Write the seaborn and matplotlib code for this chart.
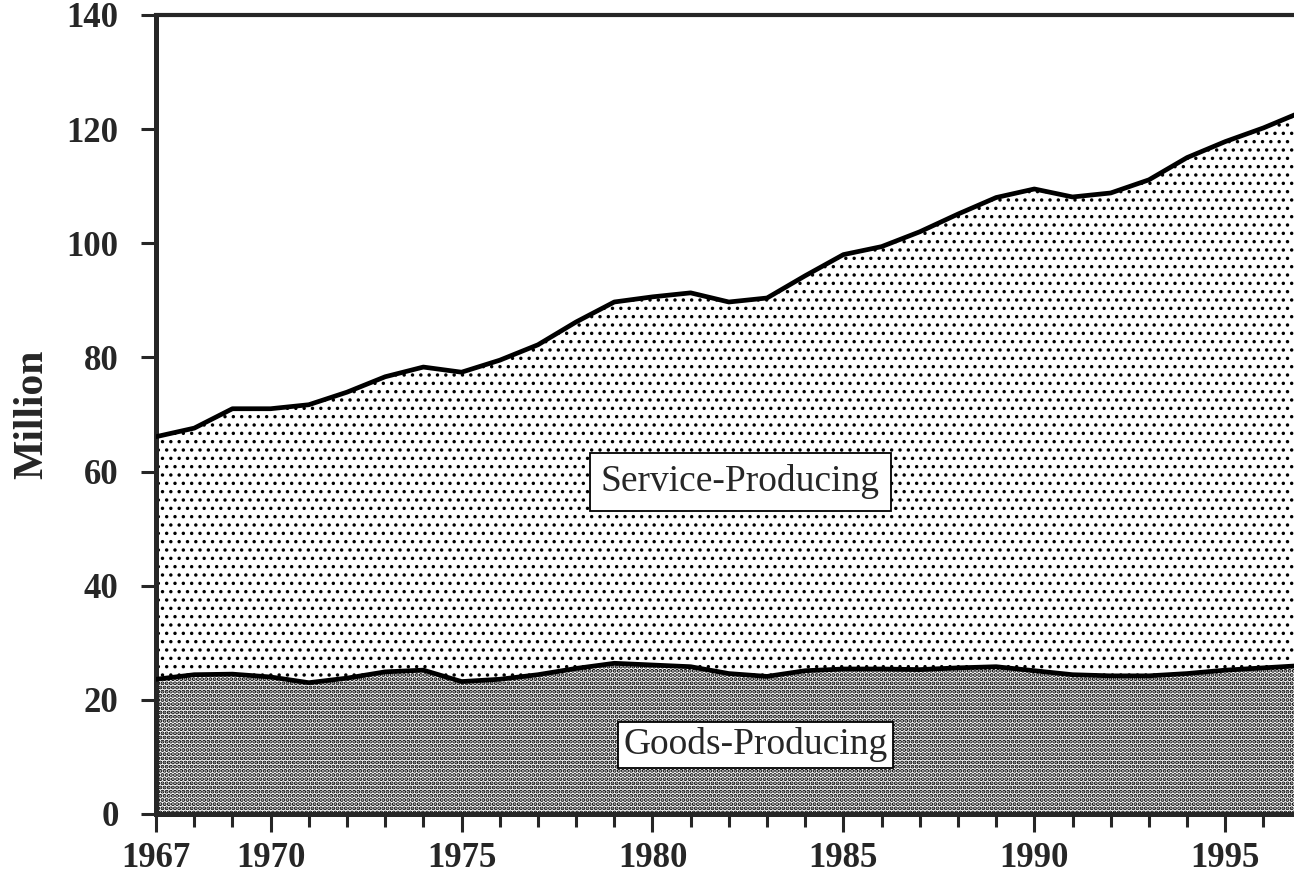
import numpy as np
import pandas as pd
import matplotlib
matplotlib.use("Agg")
import matplotlib.pyplot as plt
from matplotlib.ticker import MultipleLocator, FixedLocator
import seaborn as sns

# employment by sector, million
years = list(range(1967, 1998))
goods = [23.6, 24.4, 24.5, 24.0, 23.0, 23.8, 24.9, 25.2, 23.2, 23.6,
         24.4, 25.5, 26.4, 26.1, 25.8, 24.6, 24.1, 25.1, 25.4, 25.4,
         25.3, 25.6, 25.8, 25.1, 24.4, 24.2, 24.2, 24.6, 25.2, 25.6, 26.0]
service = [42.5, 43.2, 46.5, 47.0, 48.7, 50.1, 51.7, 53.1, 54.2, 55.9,
           57.8, 60.7, 63.3, 64.5, 65.5, 65.1, 66.3, 69.2, 72.6, 74.0,
           76.7, 79.5, 82.2, 84.4, 83.7, 84.6, 86.9, 90.4, 92.6, 94.6, 97.0]
major_years = [1967, 1970, 1975, 1980, 1985, 1990, 1995]

df = pd.DataFrame({"year": years, "goods": goods, "service": service})
df["total"] = df.goods + df.service

sns.set_style("ticks")
plt.rcParams["font.family"] = ["Liberation Serif", "DejaVu Serif"]
plt.rcParams["hatch.color"] = "black"

fig = plt.figure(figsize=(12.94, 8.76), dpi=100)
ax = fig.add_axes([0.1206, 0.0708, 0.8794, 0.9122])

# dense dots for goods, sparse dots for services
GOODS_HW, SERV_HW = 2.0, 1.25
plt.rcParams["hatch.linewidth"] = GOODS_HW
g = ax.fill_between(df.year, 0, df.goods, facecolor="white", edgecolor="black",
                    hatch="....", linewidth=0, zorder=1)
plt.rcParams["hatch.linewidth"] = SERV_HW
s = ax.fill_between(df.year, df.goods, df.total, facecolor="white", edgecolor="black",
                    hatch="..", linewidth=0, zorder=1)
for coll, hw in [(g, GOODS_HW), (s, SERV_HW)]:
    if hasattr(coll, "set_hatch_linewidth"):
        coll.set_hatch_linewidth(hw)

sns.lineplot(x=df.year, y=df.goods, color="black", linewidth=3.4, ax=ax, zorder=3)
sns.lineplot(x=df.year, y=df.total, color="black", linewidth=3.4, ax=ax, zorder=3)

ax.set_xlim(1967, 1996.8)
ax.set_ylim(0, 140)

ax.xaxis.set_major_locator(FixedLocator(major_years))
ax.xaxis.set_minor_locator(MultipleLocator(1))
ax.yaxis.set_major_locator(MultipleLocator(20))
ax.tick_params(axis="x", which="major", length=13, width=2.2, pad=7,
               labelsize=25, direction="out")
ax.tick_params(axis="x", which="minor", length=9.5, width=2.2, direction="out")
ax.tick_params(axis="y", which="major", length=11, width=2.2, pad=16,
               labelsize=25, direction="out")
for lab in ax.get_xticklabels() + ax.get_yticklabels():
    lab.set_fontweight("bold")

ax.set_xlabel("")
ax.set_ylabel("Million", fontsize=30, fontweight="bold", labelpad=11)

for side in ["left", "bottom"]:
    ax.spines[side].set_linewidth(3.6)
ax.spines["top"].set_linewidth(3)
ax.spines["right"].set_visible(False)
ax.spines["top"].set_zorder(5)

ax.text(1982.3, 58.2, "Service-Producing", fontsize=27, ha="center", va="center",
        zorder=6, bbox=dict(boxstyle="square,pad=0.3", facecolor="white",
                            edgecolor="black", linewidth=1.3))
ax.text(1982.7, 12.1, "Goods-Producing", fontsize=27, ha="center", va="center",
        zorder=6, bbox=dict(boxstyle="square,pad=0.15", facecolor="white",
                            edgecolor="black", linewidth=1.3))

fig.savefig("out.png", dpi=100)
